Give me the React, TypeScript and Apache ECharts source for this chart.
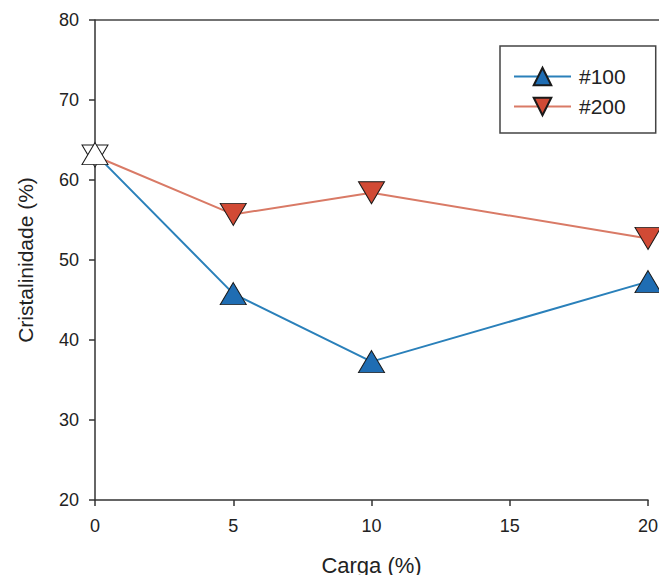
import React, { useEffect, useRef } from "react";
import * as echarts from "echarts";

const carga = [0, 5, 10, 20];
const s100 = [63.3, 45.8, 37.3, 47.3];
const s200 = [63.0, 55.7, 58.4, 52.7];
const seriesNames = ["#100", "#200"];
const xTicks = [0, 5, 10, 15, 20];
const yTicks = [20, 30, 40, 50, 60, 70, 80];

const mkData = (vals: number[]) =>
  vals.map((v, i) =>
    i === 0
      ? { value: [carga[i], v], itemStyle: { color: "#ffffff" } }
      : { value: [carga[i], v] }
  );

export default function App() {
  const ref = useRef<HTMLDivElement>(null);
  useEffect(() => {
    if (!ref.current) return;
    const chart = echarts.init(ref.current, undefined, { renderer: "svg" });
    const font = "'Liberation Sans', Arial, sans-serif";
    chart.setOption({
      animation: false,
      backgroundColor: "#ffffff",
      grid: { left: 95, top: 20, right: 19, bottom: 83 },
      legend: {
        orient: "vertical",
        left: 500,
        top: 46,
        width: 152,
        padding: [20, 30, 16, 13],
        borderColor: "#444",
        borderWidth: 1.5,
        itemWidth: 57,
        itemHeight: 22,
        itemGap: 9,
        textStyle: { fontFamily: font, fontSize: 21, color: "#222", padding: [0, 0, 0, 3] },
        data: seriesNames,
      },
      xAxis: {
        type: "value",
        min: xTicks[0],
        max: xTicks[xTicks.length - 1],
        interval: 5,
        name: "Carga (%)",
        nameLocation: "middle",
        nameGap: 54,
        nameTextStyle: { fontFamily: font, fontSize: 22, color: "#222" },
        axisLine: { lineStyle: { color: "#333", width: 1.5 } },
        axisTick: { show: true, length: 6, lineStyle: { color: "#333", width: 1.5 } },
        axisLabel: { fontFamily: font, fontSize: 18, color: "#222", margin: 17 },
        splitLine: { show: false },
      },
      yAxis: {
        type: "value",
        min: yTicks[0],
        max: yTicks[yTicks.length - 1],
        interval: 10,
        name: "Cristalinidade (%)",
        nameLocation: "middle",
        nameGap: 59,
        nameTextStyle: { fontFamily: font, fontSize: 21, color: "#222" },
        axisLine: { show: true, lineStyle: { color: "#333", width: 1.5 } },
        axisTick: { show: true, length: 6, lineStyle: { color: "#333", width: 1.5 } },
        axisLabel: { fontFamily: font, fontSize: 18, color: "#222", margin: 16 },
        splitLine: { show: false },
      },
      graphic: [
        {
          type: "line",
          shape: { x1: 95, y1: 20, x2: 667, y2: 20 },
          style: { stroke: "#444", lineWidth: 1.5 },
          silent: true,
        },
      ],
      series: [
        {
          name: seriesNames[0],
          type: "line",
          data: mkData(s100),
          symbol: "triangle",
          symbolSize: [26, 22],
          itemStyle: { color: "#1f6db3", borderColor: "#1a1a1a", borderWidth: 1 },
          lineStyle: { color: "#2a80ba", width: 2 },
          z: 3,
        },
        {
          name: seriesNames[1],
          type: "line",
          data: mkData(s200),
          symbol: "triangle",
          symbolRotate: 180,
          symbolSize: [26, 22],
          itemStyle: { color: "#d14a35", borderColor: "#1a1a1a", borderWidth: 1 },
          lineStyle: { color: "#d97a66", width: 2 },
          z: 2,
        },
      ],
    });
    return () => chart.dispose();
  }, []);
  return <div ref={ref} style={{ width: 667, height: 583, margin: -8 }} />;
}
